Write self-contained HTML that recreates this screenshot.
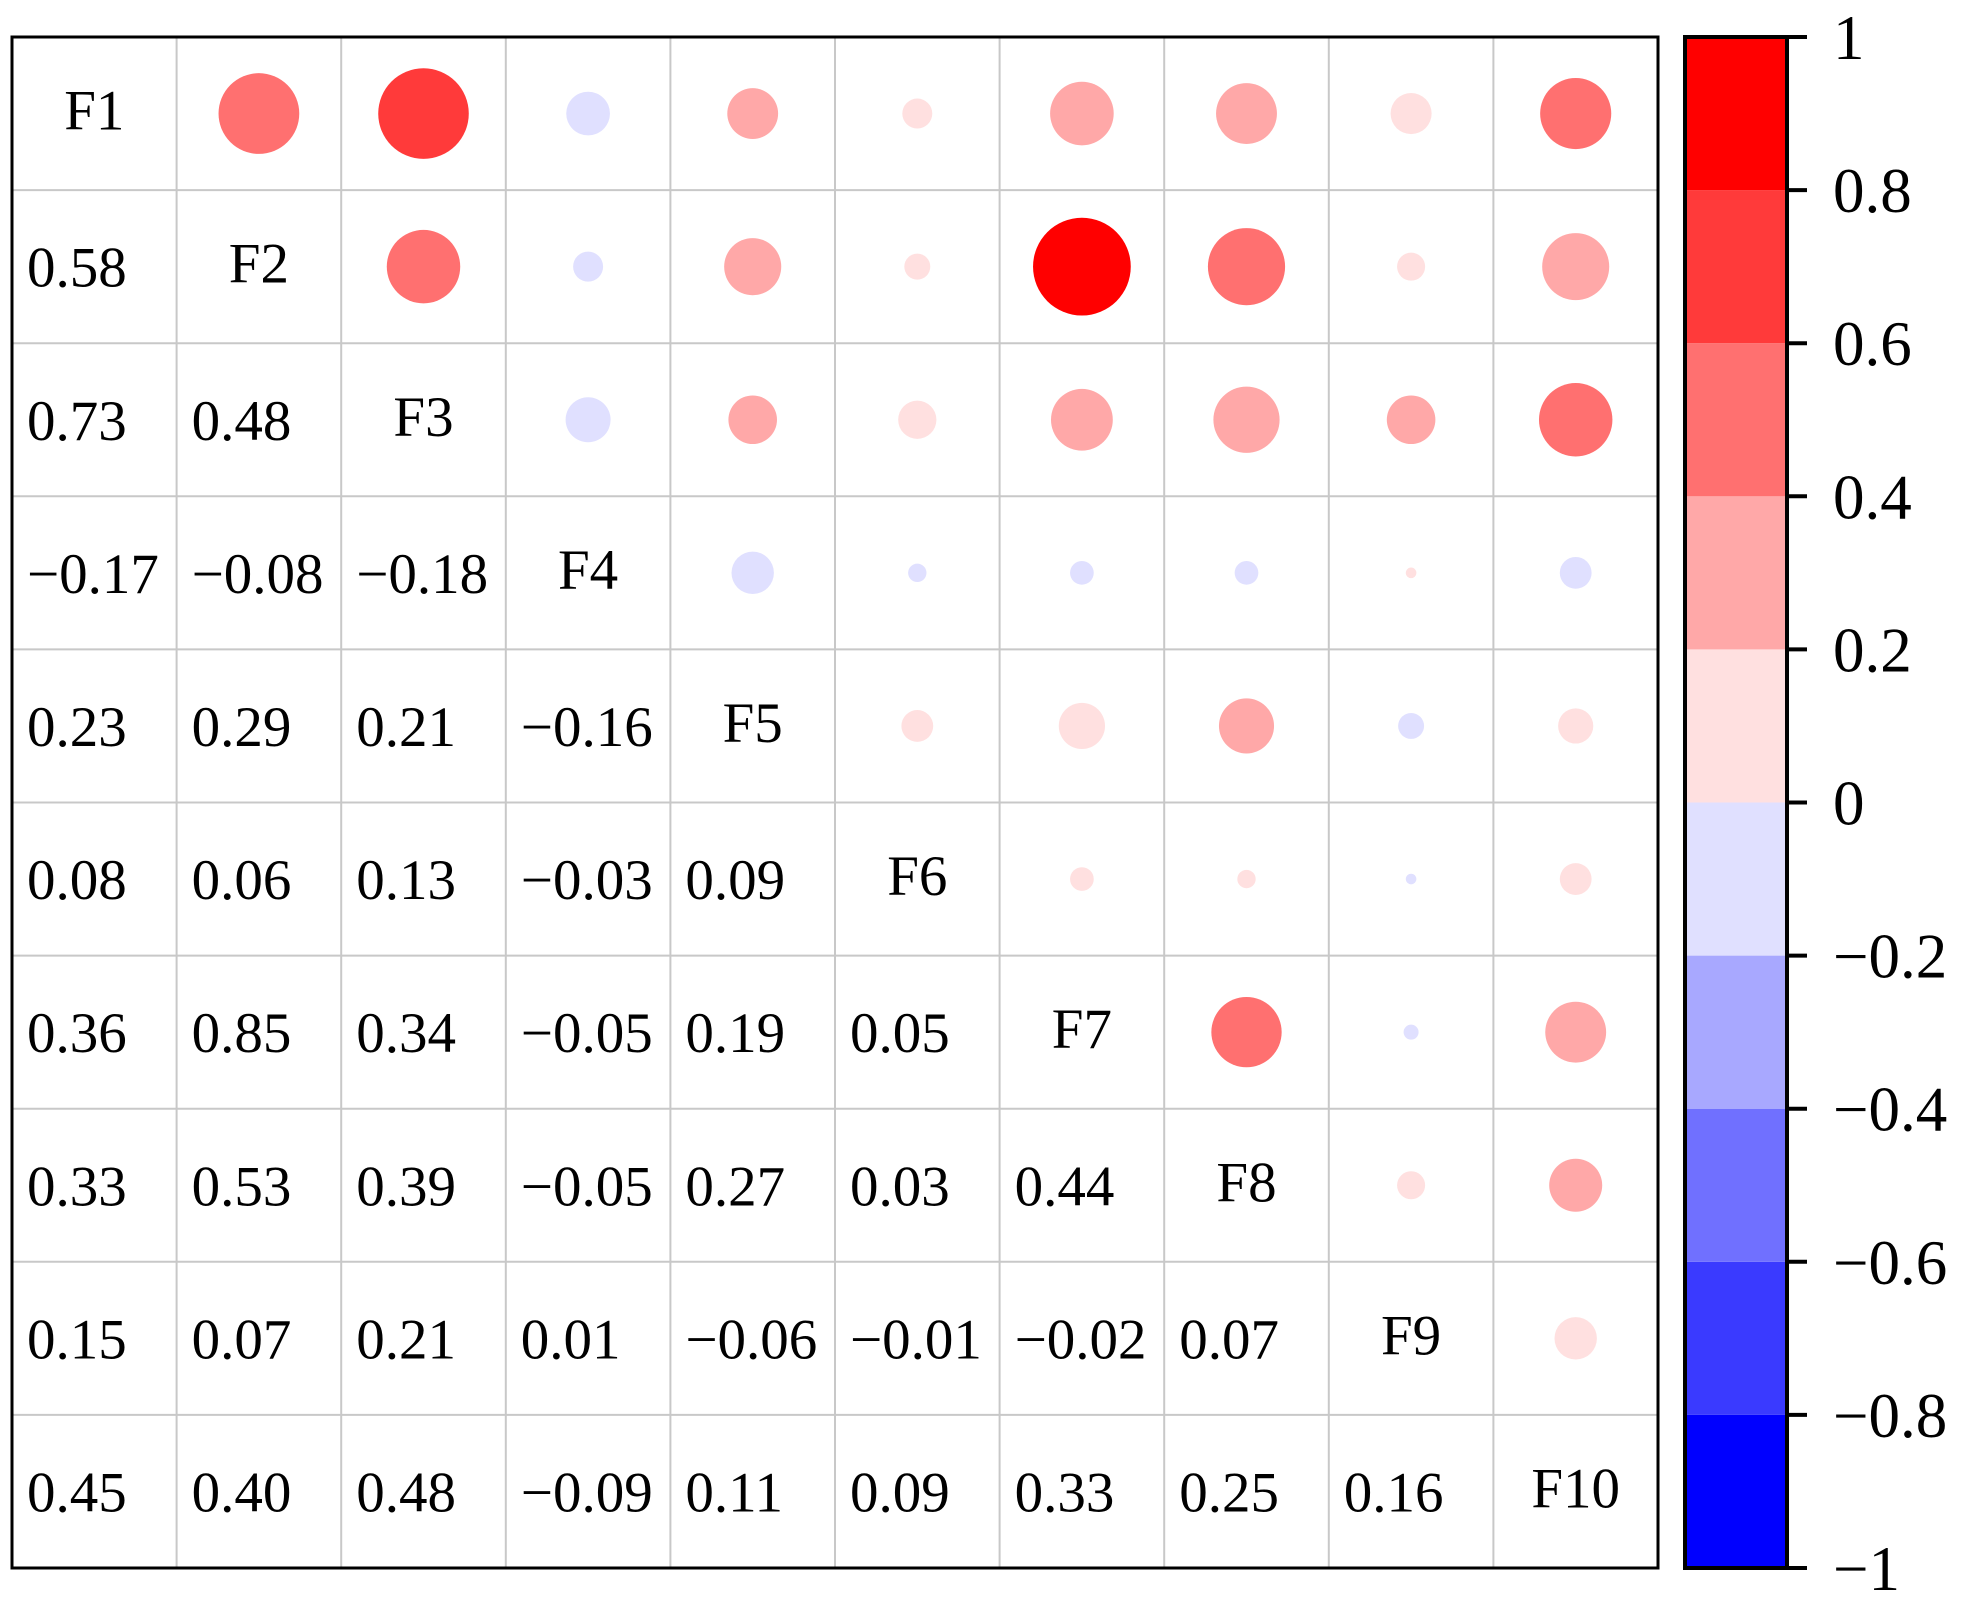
<!DOCTYPE html>
<html><head><meta charset="utf-8"><style>
html,body{margin:0;padding:0;background:#fff;}
svg{display:block;font-family:"Liberation Serif",serif;}
</style></head><body>
<svg id="chart" width="1964" height="1610" viewBox="0 0 1964 1610" xmlns="http://www.w3.org/2000/svg"></svg>
<script>
const labels = ["F1","F2","F3","F4","F5","F6","F7","F8","F9","F10"];
const row2 = [0.58];
const row3 = [0.73,0.48];
const row4 = [-0.17,-0.08,-0.18];
const row5 = [0.23,0.29,0.21,-0.16];
const row6 = [0.08,0.06,0.13,-0.03,0.09];
const row7 = [0.36,0.85,0.34,-0.05,0.19,0.05];
const row8 = [0.33,0.53,0.39,-0.05,0.27,0.03,0.44];
const row9 = [0.15,0.07,0.21,0.01,-0.06,-0.01,-0.02,0.07];
const row10 = [0.45,0.40,0.48,-0.09,0.11,0.09,0.33,0.25,0.16];
const lowerRows = [[],row2,row3,row4,row5,row6,row7,row8,row9,row10];
const cbTicks = [1,0.8,0.6,0.4,0.2,0,-0.2,-0.4,-0.6,-0.8,-1];
const binColors = ["#0000FF","#3A3AFF","#7070FF","#A8A8FF","#E0E0FF","#FFE0E0","#FFA8A8","#FF7070","#FF3A3A","#FF0000"];

const NS="http://www.w3.org/2000/svg";
const svg=document.getElementById('chart');
const gx0=12,gx1=1658,gy0=37,gy1=1568,n=labels.length;
const cw=(gx1-gx0)/n,ch=(gy1-gy0)/n;
const xc=j=>gx0+cw*(j+0.5), yc=i=>gy0+ch*(i+0.5);
const rScale=v=>53*Math.sqrt(Math.abs(v));
const colorOf=v=>{let b=Math.floor((v+1)/0.2);if(b<0)b=0;if(b>9)b=9;return binColors[b];};
const fmt=v=>(v<0?"\u2212":"")+Math.abs(v).toFixed(2);
function mk(t,a){const e=document.createElementNS(NS,t);for(const k in a)e.setAttribute(k,a[k]);svg.appendChild(e);return e;}
const val=(i,j)=>i>j?lowerRows[i][j]:lowerRows[j][i];

for(let k=1;k<n;k++){
  const l1=mk('line',{x1:gx0+cw*k,x2:gx0+cw*k,y1:gy0,y2:gy1,stroke:'#c8c8c8','stroke-width':2});
  
  
  const l2=mk('line',{x1:gx0,x2:gx1,y1:gy0+ch*k,y2:gy0+ch*k,stroke:'#c8c8c8','stroke-width':2});
  
  
}
for(let i=0;i<n;i++){
  for(let j=0;j<n;j++){
    if(i===j){
      const t=mk('text',{x:xc(j),y:yc(i)+16,'text-anchor':'middle','font-size':57,fill:'#000'});
      t.textContent=labels[i];
      
      
    }else if(i>j){
      const v=val(i,j);
      const t=mk('text',{x:gx0+cw*j+15,y:yc(i)+20,'font-size':57,fill:'#000'});
      t.textContent=fmt(v);
      
      
    }else{
      const v=val(i,j);
      const c=mk('circle',{cx:xc(j),cy:yc(i),r:rScale(v),fill:colorOf(v)});
      
      
    }
  }
}
const border=mk('rect',{x:gx0,y:gy0,width:gx1-gx0,height:gy1-gy0,fill:'none',stroke:'#000','stroke-width':3});



const cx0=1685,cx1=1787,cy0=gy0,cy1=gy1;
const cbY=v=>cy1-(v+1)/2*(cy1-cy0);
for(let b=0;b<10;b++){
  const lo=-1+b*0.2,hi=lo+0.2;
  const r=mk('rect',{x:cx0,y:cbY(hi),width:cx1-cx0,height:cbY(lo)-cbY(hi),fill:binColors[b]});
  
  
}
const cbb=mk('rect',{x:cx0,y:cy0,width:cx1-cx0,height:cy1-cy0,fill:'none',stroke:'#000','stroke-width':4});


cbTicks.forEach(v=>{
  const l=mk('line',{x1:cx1,x2:1807,y1:cbY(v),y2:cbY(v),stroke:'#000','stroke-width':4});
  
  
  const t=mk('text',{x:1833,y:cbY(v)+22,'font-size':63,fill:'#000'});
  t.textContent=(v<0?"\u2212":"")+String(Math.abs(v));
  
  
});
</script>
</body></html>
